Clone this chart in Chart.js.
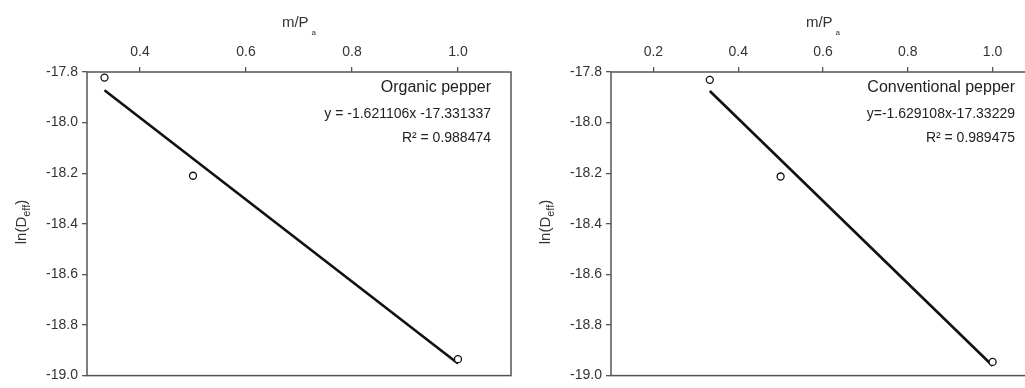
<!DOCTYPE html>
<html>
<head>
<meta charset="utf-8">
<script src="https://cdn.jsdelivr.net/npm/chart.js@4/dist/chart.umd.min.js"></script>
<style>
  html, body { margin: 0; padding: 0; background: #fff; overflow: hidden; }
  body { width: 1025px; height: 388px; position: relative; }
  .panel { position: absolute; top: 0; }
</style>
</head>
<body>
<div class="panel" style="left:0"><canvas id="organicChart" width="520" height="388"></canvas></div>
<div class="panel" style="left:520px"><canvas id="conventionalChart" width="524" height="388"></canvas></div>
<script>
// m/Pa values and ln(Deff)
const mPa = [0.333, 0.5, 1.0];
const organicLnD = [-17.822, -18.21, -18.935];
const conventionalLnD = [-17.831, -18.213, -18.946];

// regression line end points
const fitX = [0.333, 1.0];
const organicFit = [-17.872, -18.952];
const conventionalFit = [-17.875, -18.961];

const yTicks = [-19.0, -18.8, -18.6, -18.4, -18.2, -18.0, -17.8];
const organicXTicks = [0.4, 0.6, 0.8, 1.0];
const conventionalXTicks = [0.2, 0.4, 0.6, 0.8, 1.0];

const FONT = '"Liberation Sans", Arial, sans-serif';
const FRAME = '#555';
const TEXT = '#333';

const toPts = (xs, ys) => xs.map((x, i) => ({ x, y: ys[i] }));

// frame, axis titles with subscripts, fit annotation
const decorations = {
  id: 'decorations',
  afterDraw(chart, args, opts) {
    const { ctx, chartArea: a } = chart;
    ctx.save();
    ctx.strokeStyle = FRAME;
    ctx.lineWidth = 1.5;
    ctx.strokeRect(a.left, a.top, a.right - a.left, a.bottom - a.top);

    ctx.fillStyle = TEXT;
    ctx.textBaseline = 'alphabetic';

    // top axis title m/Pa
    ctx.font = '15px ' + FONT;
    const main = 'm/P';
    const wMain = ctx.measureText(main).width;
    ctx.font = '8px ' + FONT;
    const wSub = ctx.measureText('a').width;
    let x = (a.left + a.right) / 2 - (wMain + 3 + wSub) / 2;
    ctx.textAlign = 'left';
    ctx.font = '15px ' + FONT;
    ctx.fillText(main, x, 27);
    ctx.font = '8px ' + FONT;
    ctx.fillText('a', x + wMain + 3, 35);

    // left axis title ln(Deff)
    ctx.save();
    ctx.translate(a.left - 61, 222);
    ctx.rotate(-Math.PI / 2);
    ctx.font = '15px ' + FONT;
    const w1 = ctx.measureText('ln(D').width;
    const w3 = ctx.measureText(')').width;
    ctx.font = '11px ' + FONT;
    const w2 = ctx.measureText('eff').width;
    let tx = -(w1 + w2 + w3) / 2;
    ctx.font = '15px ' + FONT;
    ctx.fillText('ln(D', tx, 0);
    ctx.font = '11px ' + FONT;
    ctx.fillText('eff', tx + w1, 4);
    ctx.font = '15px ' + FONT;
    ctx.fillText(')', tx + w1 + w2, 0);
    ctx.restore();

    // annotation
    ctx.textAlign = 'right';
    ctx.textBaseline = 'middle';
    const rx = a.right - 20;
    ctx.fillStyle = '#222';
    ctx.font = '16px ' + FONT;
    ctx.fillText(opts.name, rx, 88);
    ctx.font = '14px ' + FONT;
    ctx.fillText(opts.equation, rx, 114);
    ctx.fillText(opts.r2, rx, 138);
    ctx.restore();
  }
};

function makeChart(id, lnD, fit, xMin, xTicks, yWidth, note) {
  const ctx = document.getElementById(id).getContext('2d');
  return new Chart(ctx, {
    type: 'scatter',
    data: {
      datasets: [
        {
          label: 'measured',
          data: toPts(mPa, lnD),
          pointRadius: 3.5,
          pointBorderWidth: 1.3,
          pointBackgroundColor: '#fff',
          pointBorderColor: '#111',
          showLine: false,
        },
        {
          label: 'fit',
          data: toPts(fitX, fit),
          showLine: true,
          borderColor: '#111',
          borderWidth: 2.6,
          pointRadius: 0,
        },
      ],
    },
    options: {
      responsive: false,
      animation: false,
      events: [],
      layout: { padding: { left: 0, right: 9, top: 0, bottom: 8 } },
      plugins: {
        legend: { display: false },
        tooltip: { enabled: false },
        decorations: note,
      },
      scales: {
        x: {
          type: 'linear',
          position: 'top',
          min: xMin, max: 1.1,
          afterBuildTicks: s => { s.ticks = xTicks.map(v => ({ value: v })); },
          afterFit: s => { s.height = 72; },
          ticks: {
            callback: v => v.toFixed(1),
            color: TEXT,
            font: { family: FONT, size: 14 },
            padding: 6,
            maxRotation: 0,
          },
          grid: { drawOnChartArea: false, drawTicks: true, tickLength: 5, color: FRAME, lineWidth: 1.3 },
          border: { display: false },
        },
        y: {
          type: 'linear',
          min: -19.0, max: -17.8,
          afterBuildTicks: s => { s.ticks = yTicks.map(v => ({ value: v })); },
          afterFit: s => { s.width = yWidth; },
          ticks: {
            callback: v => v.toFixed(1),
            color: TEXT,
            font: { family: FONT, size: 14 },
            padding: 4,
          },
          grid: { drawOnChartArea: false, drawTicks: true, tickLength: 5, color: FRAME, lineWidth: 1.3 },
          border: { display: false },
        },
      },
    },
    plugins: [decorations],
  });
}

makeChart('organicChart', organicLnD, organicFit, 0.3, organicXTicks, 87, {
  name: 'Organic pepper',
  equation: 'y = -1.621106x -17.331337',
  r2: 'R\u00b2 = 0.988474',
});

makeChart('conventionalChart', conventionalLnD, conventionalFit, 0.1, conventionalXTicks, 91, {
  name: 'Conventional pepper',
  equation: 'y=-1.629108x-17.33229',
  r2: 'R\u00b2 = 0.989475',
});
</script>
</body>
</html>
